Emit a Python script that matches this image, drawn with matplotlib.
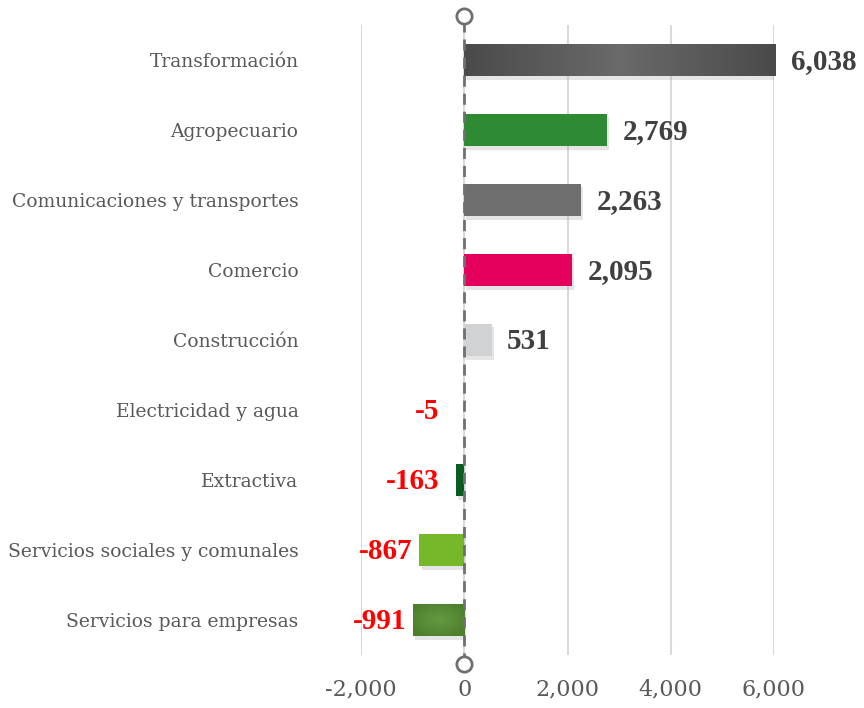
import numpy as np
import matplotlib.pyplot as plt
import matplotlib.patheffects as pe

# Sector data (top to bottom)
sectors = ["Transformación", "Agropecuario", "Comunicaciones y transportes",
           "Comercio", "Construcción", "Electricidad y agua", "Extractiva",
           "Servicios sociales y comunales", "Servicios para empresas"]
values = [6038, 2769, 2263, 2095, 531, -5, -163, -867, -991]
colors = ["#555555", "#2e8b34", "#6e6e6e", "#e5005e", "#d0d2d3",
          "#e5e5e5", "#0b5a1f", "#77b82b", "#4f8a30"]
xticks = [-2000, 0, 2000, 4000, 6000]

fig = plt.figure(figsize=(8.64, 7.08), dpi=100)
ax = fig.add_axes([361 / 864, 53 / 708, 413 / 864, 630 / 708])

y = np.arange(len(sectors))[::-1]
shadow = [pe.SimplePatchShadow(offset=(1.5, -2.5), shadow_rgbFace="#aaaaaa", alpha=0.3), pe.Normal()]
bars = ax.barh(y, values, height=0.47, color=colors, zorder=3)
for b in bars:
    b.set_path_effects(shadow)

# gradients on the first and last bar
def gradient(bar, c_edge, c_mid, radial=False):
    x0, y0 = bar.get_x(), bar.get_y()
    w, h = bar.get_width(), bar.get_height()
    xx = np.linspace(-1, 1, 200)
    yy = np.linspace(-1, 1, 50)
    X, Y = np.meshgrid(xx, yy)
    if radial:
        t = np.clip(np.sqrt(X ** 2 + Y ** 2) / 1.2, 0, 1)
    else:
        t = np.abs(X)
    a = np.array(plt.matplotlib.colors.to_rgb(c_mid))
    b = np.array(plt.matplotlib.colors.to_rgb(c_edge))
    img = a[None, None, :] * (1 - t[..., None]) + b[None, None, :] * t[..., None]
    im = ax.imshow(img, extent=[x0, x0 + w, y0, y0 + h], aspect="auto",
                   zorder=4, interpolation="bilinear")
    im.set_clip_path(bar)

gradient(bars[0], "#4a4a4a", "#6a6a6a")
gradient(bars[-1], "#4c7f2c", "#659a42", radial=True)

# value labels
lab = dict(va="center", fontsize=21, fontweight="bold", family="Liberation Serif",
           zorder=5, annotation_clip=False, textcoords="offset points")
for yi, v in zip(y, values):
    txt = f"{v:,}"
    if v >= 0:
        ax.annotate(txt, (v, yi - 0.02), xytext=(11, 0), ha="left", color="#404040", **lab)
    else:
        ax.annotate(txt, (min(v, -350), yi - 0.02), xytext=(-5, 0), ha="right", color="#ff0000", **lab)

# zero line with open circles
ax.plot([0, 0], [-0.63, len(sectors) - 0.37], color="#707070", lw=2,
        ls=(0, (4, 2.5)), zorder=6, clip_on=False)
ax.plot([0, 0], [-0.63, len(sectors) - 0.37], ls="none", marker="o", ms=11,
        mfc="white", mec="#707070", mew=2, zorder=7, clip_on=False)

ax.set_xlim(-2000, 6000)
ax.set_ylim(-0.5, len(sectors) - 0.5)
ax.set_xticks(xticks)
ax.set_xticklabels([f"{t:,}" for t in xticks])
ax.set_yticks(y)
ax.set_yticklabels(sectors)
ax.grid(axis="x", color="#d9d9d9", lw=1.5, zorder=0)
ax.tick_params(length=0)
ax.tick_params(axis="y", pad=45, labelsize=13.5, labelcolor="#595959")
ax.tick_params(axis="x", pad=17, labelsize=16, labelcolor="#595959")
for lbl in ax.get_xticklabels() + ax.get_yticklabels():
    lbl.set_family("DejaVu Serif")
for s in ax.spines.values():
    s.set_visible(False)

fig.savefig("out.png", dpi=100)
